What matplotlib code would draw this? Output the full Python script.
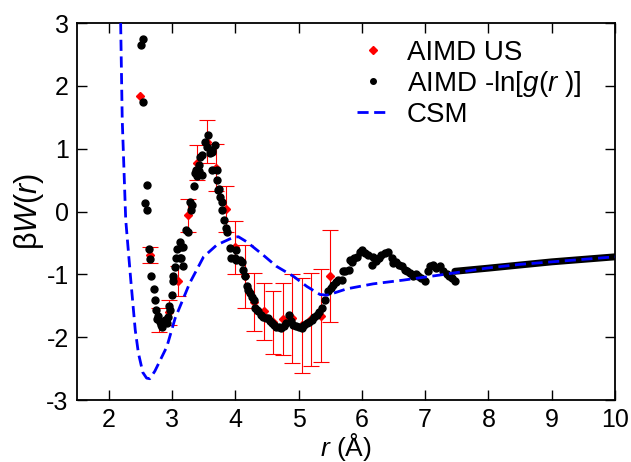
import matplotlib
matplotlib.use("Agg")
import matplotlib.pyplot as plt
from matplotlib.lines import Line2D

plt.rcParams['font.family'] = ['Liberation Sans', 'DejaVu Sans']
plt.rcParams['mathtext.fontset'] = 'custom'
plt.rcParams['mathtext.rm'] = 'Liberation Sans'
plt.rcParams['mathtext.it'] = 'Liberation Sans:italic'
plt.rcParams['axes.unicode_minus'] = False

# AIMD umbrella sampling (with error bars, none visible for the first point)
us_r = [2.5, 2.65, 2.8, 2.95, 3.1, 3.25, 3.4, 3.55, 3.7, 3.85, 4.0,
        4.15, 4.3, 4.45, 4.6, 4.75, 4.9, 5.05, 5.2, 5.35, 5.5]
us_w = [1.84, -0.69, -1.72, -1.60, -1.10, -0.06, 0.78, 1.11, 0.70, 0.04, -0.57,
        -1.03, -1.44, -1.59, -1.76, -1.71, -1.70, -1.81, -1.71, -1.66, -1.03]
us_err = [float('nan'), 0.13, 0.19, 0.20, 0.24, 0.26, 0.28, 0.34, 0.38, 0.37, 0.42,
          0.50, 0.46, 0.46, 0.50, 0.57, 0.71, 0.76, 0.74, 0.74, 0.73]

# AIMD -ln[g(r)] points
gr_r = [2.51, 2.54, 2.55, 2.57, 2.60, 2.61, 2.64, 2.66, 2.67, 2.71,
        2.73, 2.75, 2.77, 2.78, 2.81, 2.82, 2.84, 2.86, 2.89, 2.92,
        2.94, 2.96, 2.97, 3.00, 3.01, 3.02, 3.05, 3.07, 3.08, 3.12,
        3.13, 3.15, 3.15, 3.18, 3.18, 3.23, 3.26, 3.28, 3.30, 3.31,
        3.35, 3.36, 3.38, 3.39, 3.42, 3.42, 3.44, 3.47, 3.47, 3.52,
        3.55, 3.57, 3.60, 3.63, 3.64, 3.64, 3.68, 3.71, 3.72, 3.73,
        3.75, 3.76, 3.79, 3.79, 3.82, 3.85, 3.87, 3.91, 3.94, 3.99,
        4.02, 4.02, 4.07, 4.10, 4.13, 4.15, 4.18, 4.20, 4.23, 4.26,
        4.29, 4.31, 4.34, 4.36, 4.40, 4.44, 4.48, 4.52, 4.55, 4.58,
        4.62, 4.65, 4.69, 4.73, 4.77, 4.81, 4.85, 4.88, 4.92, 4.96,
        5.00, 5.05, 5.09, 5.13, 5.17, 5.21, 5.25, 5.29, 5.33, 5.37,
        5.42, 5.47, 5.51, 5.55, 5.59, 5.63, 5.68, 5.71, 5.73, 5.79,
        5.81, 5.84, 5.87, 5.92, 5.97, 6.00, 6.05, 6.10, 6.16, 6.18,
        6.23, 6.27, 6.31, 6.36, 6.42, 6.47, 6.50, 6.54, 6.58, 6.63,
        6.68, 6.72, 6.76, 6.81, 6.85, 6.89, 6.94, 7.00, 7.04, 7.08,
        7.13, 7.18, 7.23, 7.29, 7.34, 7.38, 7.42, 7.47]
gr_w = [2.65, 2.75, 1.75, 0.13, 0.42, 0.02, -0.60, -0.75, -1.02, -1.23,
        -1.41, -1.56, -1.71, -1.66, -1.75, -1.80, -1.83, -1.78, -1.72, -1.77,
        -1.67, -1.51, -1.56, -1.32, -1.11, -1.03, -0.88, -0.74, -0.60, -0.49,
        -0.74, -0.57, -0.74, -0.57, -0.87, -0.29, -0.32, 0.16, 0.03, 0.11,
        0.40, 0.61, 0.66, 0.56, 0.74, 0.64, 0.87, 0.90, 0.58, 1.10,
        1.03, 1.22, 0.93, 0.98, 0.95, 0.66, 1.06, 0.51, 0.66, 0.34,
        0.36, 0.24, 0.16, 0.02, -0.13, -0.26, -0.32, -0.58, -0.74, -0.74,
        -0.61, -0.77, -0.77, -0.80, -0.93, -1.03, -1.19, -1.25, -1.30, -1.36,
        -1.40, -1.54, -1.56, -1.59, -1.64, -1.67, -1.70, -1.69, -1.74, -1.77,
        -1.80, -1.83, -1.84, -1.85, -1.82, -1.77, -1.64, -1.74, -1.80, -1.82,
        -1.83, -1.85, -1.81, -1.77, -1.75, -1.72, -1.68, -1.64, -1.60, -1.54,
        -1.40, -1.27, -1.22, -1.17, -1.12, -1.09, -1.09, -0.95, -0.95, -0.93,
        -0.77, -0.80, -0.74, -0.72, -0.64, -0.61, -0.66, -0.69, -0.85, -0.72,
        -0.79, -0.74, -0.69, -0.66, -0.64, -0.74, -0.82, -0.80, -0.85, -0.87,
        -0.93, -0.95, -0.98, -1.03, -1.00, -1.02, -1.06, -1.11, -0.95, -0.87,
        -0.85, -0.90, -0.87, -0.95, -1.00, -1.02, -1.06, -1.11]

# long-range part of -ln[g(r)] (dense points, drawn as a thick line)
tail_r = [7.47, 8.0, 8.5, 9.0, 9.5, 10.0]
tail_w = [-0.95, -0.90, -0.85, -0.80, -0.76, -0.72]

# CSM curve
csm_r = [2.19, 2.215, 2.27, 2.35, 2.42, 2.47, 2.54, 2.60, 2.65, 2.73,
         2.92, 3.05, 3.28, 3.50, 3.71, 3.97, 4.05, 4.18, 4.44, 4.65,
         4.92, 5.13, 5.34, 5.45, 5.55, 5.76, 6.18, 6.66, 7.23, 7.97,
         8.5, 9.0, 9.5, 10.0]
csm_w = [3.0, 1.46, -0.13, -1.09, -1.88, -2.25, -2.56, -2.65, -2.66, -2.54,
         -2.15, -1.70, -1.14, -0.72, -0.53, -0.41, -0.40, -0.48, -0.69, -0.87,
         -1.03, -1.19, -1.32, -1.33, -1.30, -1.23, -1.15, -1.09, -1.01, -0.90,
         -0.84, -0.80, -0.76, -0.72]

fig = plt.figure(figsize=(6.31, 4.62), dpi=100)
ax = fig.add_axes([0.122, 0.134, 0.8526, 0.816])

ax.errorbar(us_r, us_w, yerr=us_err, fmt='D', color='red', ms=4.5,
            ecolor='red', elinewidth=0.8, capsize=6, capthick=0.8, zorder=2)
ax.plot(gr_r, gr_w, 'o', color='black', ms=5, zorder=3)
ax.plot(tail_r, tail_w, '-', color='black', lw=5, solid_capstyle='round', zorder=3)
ax.plot(csm_r, csm_w, color='blue', lw=2, dashes=(4, 2), zorder=4)

ax.set_xlim(1.5, 10)
ax.set_ylim(-3, 3)
ax.set_xticks(range(2, 11))
ax.set_yticks(range(-3, 4))
ax.tick_params(direction='in', top=True, right=True, length=7, width=1,
               labelsize=18, pad=6)
for s in ax.spines.values():
    s.set_linewidth(1.3)

ax.set_xlabel('$r$ (Å)', fontsize=19, labelpad=-1)
ax.set_ylabel('β$W$($r$)', fontsize=22, labelpad=0)

handles = [
    Line2D([], [], ls='none', marker='D', color='red', ms=4.5),
    Line2D([], [], ls='none', marker='o', color='black', ms=4),
    Line2D([], [], color='blue', lw=2, dashes=(4, 2)),
]
labels = ['AIMD US', 'AIMD -ln[$g$($r$ )]', 'CSM']
ax.legend(handles, labels, loc='upper left', bbox_to_anchor=(0.52, 0.955),
          frameon=False, fontsize=20, borderpad=0, borderaxespad=0,
          handlelength=1.2, handletextpad=0.6, labelspacing=0.1)

fig.savefig('out.png', dpi=100)
